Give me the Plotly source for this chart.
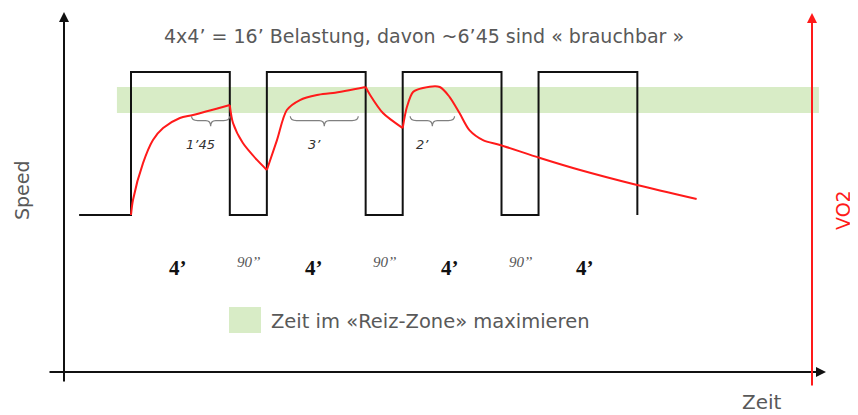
import plotly.graph_objects as go

# time in minutes, intensity on an arbitrary 0 (rest) .. 100 (work) scale
work_min = 4.0
rest_min = 1.5
n_reps = 4
lead_in = -2.1

speed_low = 0
speed_high = 100

vo2_t = [0.0, 0.08, 0.49, 0.89, 1.30, 1.98, 2.51, 4.0,
         4.13, 4.53, 5.10, 5.5,
         5.91, 6.31, 6.84, 7.53, 8.18, 9.5,
         9.68, 10.2, 11.0,
         11.17, 11.42, 11.82, 12.5, 12.9, 13.3, 13.7, 14.25, 14.94,
         16.56, 18.18, 20.49, 22.9]
vo2_v = [0.0, 10.5, 36.4, 52.4, 60.8, 67.8, 69.9, 76.9,
         64.3, 50.3, 38.5, 31.5,
         52.4, 73.4, 80.4, 83.9, 85.3, 89.5,
         83.9, 71.3, 60.8,
         75.5, 86.0, 88.8, 89.5, 82.5, 71.3, 59.4, 52.4, 49.0,
         39.9, 31.5, 21.0, 11.2]

zone_low = 71.3
zone_high = 89.5
zone_t = [-0.57, 27.85]

rep_labels = ["4’", "4’", "4’", "4’"]
rest_labels = ["90’’", "90’’", "90’’"]

brace_start = [2.45, 6.45, 11.3]
brace_end = [4.0, 9.2, 13.1]
brace_labels = ["1’45", "3’", "2’"]
brace_level = 66

title_text = "4x4’ = 16’ Belastung, davon ~6’45 sind « brauchbar »"
legend_text = "Zeit im «Reiz-Zone» maximieren"

# build the square wave, remember where the intervals switch
sq_t = [lead_in]
sq_v = [speed_low]
edges = []
t = 0.0
for i in range(n_reps):
    sq_t += [t, t, t + work_min, t + work_min]
    sq_v += [speed_low, speed_high, speed_high, speed_low]
    if i < n_reps - 1:
        edges += [t + work_min, t + work_min + rest_min]
        t += work_min + rest_min
    else:
        t += work_min
# the curve only has sharp corners for the first two reps and the third rise
edges = edges[:4]

# page body has an 8px margin, so the figure is shifted by that amount
OFF = 8
W, H = 858 - OFF, 415 - OFF


def px(x):
    return (x - OFF) / W


def py(y):
    return 1 - (y - OFF) / H


gray = "#595959"
red = "#ff1a1a"
font = "DejaVu Sans, Arial, sans-serif"
serif = "Liberation Serif, Times New Roman, serif"

fig = go.Figure()

fig.add_shape(type="rect", x0=zone_t[0], x1=zone_t[1], y0=zone_low, y1=zone_high,
              fillcolor="#d8ecc6", line_width=0, layer="below")

fig.add_trace(go.Scatter(x=sq_t, y=sq_v, mode="lines",
                         line=dict(color="#111111", width=2)))

# VO2 curve, split at the interval edges so the corners stay sharp
bounds = [vo2_t[0]] + edges + [vo2_t[-1]]
for a, b in zip(bounds[:-1], bounds[1:]):
    seg = [(x, y) for x, y in zip(vo2_t, vo2_v) if a <= x <= b]
    fig.add_trace(go.Scatter(x=[p[0] for p in seg], y=[p[1] for p in seg], mode="lines",
                             line=dict(color=red, width=2, shape="spline", smoothing=0.8)))

# curly braces under the curve
for s, e, lab in zip(brace_start, brace_end, brace_labels):
    m = (s + e) / 2
    y0 = brace_level + 3
    y1 = brace_level
    y2 = brace_level - 4
    path = (f"M {s},{y0} Q {s},{y1} {s + 0.25},{y1} L {m - 0.2},{y1} "
            f"Q {m},{y1} {m},{y2} Q {m},{y1} {m + 0.2},{y1} L {e - 0.25},{y1} "
            f"Q {e},{y1} {e},{y0}")
    fig.add_shape(type="path", path=path, line=dict(color="#808080", width=1.2))
    fig.add_annotation(x=m - 0.4, y=brace_level - 17, text=f"<i>{lab}</i>", showarrow=False,
                       font=dict(family=font, size=13, color="#333333"))

# work / rest labels
t = 0.0
for i, lab in enumerate(rep_labels):
    fig.add_annotation(x=t + work_min / 2 - 0.1, y=-37, text=f"<b>{lab}</b>", showarrow=False,
                       font=dict(family=serif, size=21, color="#111111"))
    if i < len(rest_labels):
        fig.add_annotation(x=t + work_min + rest_min / 2, y=-33, text=f"<i>{rest_labels[i]}</i>",
                           showarrow=False, font=dict(family=serif, size=15, color="#555555"))
    t += work_min + rest_min

# axes as arrows (tail offsets in pixels)
fig.add_annotation(xref="paper", yref="paper", x=px(64), y=py(12), ax=0, ay=371,
                   showarrow=True, arrowhead=2, arrowsize=1, arrowwidth=2, arrowcolor="#111111",
                   text="")
fig.add_annotation(xref="paper", yref="paper", x=px(826), y=py(372), ax=-778, ay=0,
                   showarrow=True, arrowhead=2, arrowsize=1, arrowwidth=2, arrowcolor="#111111",
                   text="")
fig.add_annotation(xref="paper", yref="paper", x=px(812), y=py(13), ax=0, ay=374,
                   showarrow=True, arrowhead=2, arrowsize=1, arrowwidth=2, arrowcolor=red,
                   text="")

# texts
txt = dict(xref="paper", yref="paper", showarrow=False, xanchor="center", yanchor="middle")
fig.add_annotation(x=px(424), y=py(36), text=title_text,
                   font=dict(family=font, size=19, color=gray), **txt)
fig.add_annotation(x=px(22), y=py(190), text="Speed", textangle=-90,
                   font=dict(family=font, size=19, color=gray), **txt)
fig.add_annotation(x=px(843), y=py(210), text="VO2", textangle=-90,
                   font=dict(family=font, size=19, color=red), **txt)
fig.add_annotation(x=px(762), y=py(402), text="Zeit",
                   font=dict(family=font, size=20, color=gray), **txt)

# legend swatch
fig.add_shape(type="rect", xref="paper", yref="paper", x0=px(229), x1=px(261),
              y0=py(333), y1=py(307), fillcolor="#d8ecc6", line_width=0)
fig.add_annotation(xref="paper", yref="paper", x=px(269), y=py(321), text=legend_text,
                   xanchor="left", yanchor="middle", showarrow=False,
                   font=dict(family=font, size=19.5, color=gray))

# 131 px -> t=0, 24.7 px/min ; 215 px -> 0, 72 px -> 100
fig.update_layout(
    width=W, height=H,
    margin=dict(l=0, r=0, t=0, b=0),
    plot_bgcolor="white", paper_bgcolor="white",
    showlegend=False,
    xaxis=dict(range=[(OFF - 131) / 24.7, (OFF + W - 131) / 24.7], visible=False, fixedrange=True),
    yaxis=dict(range=[(215 - OFF - H) / 1.43, (215 - OFF) / 1.43], visible=False, fixedrange=True),
)

fig.write_html("out.html", config={"displayModeBar": False})
